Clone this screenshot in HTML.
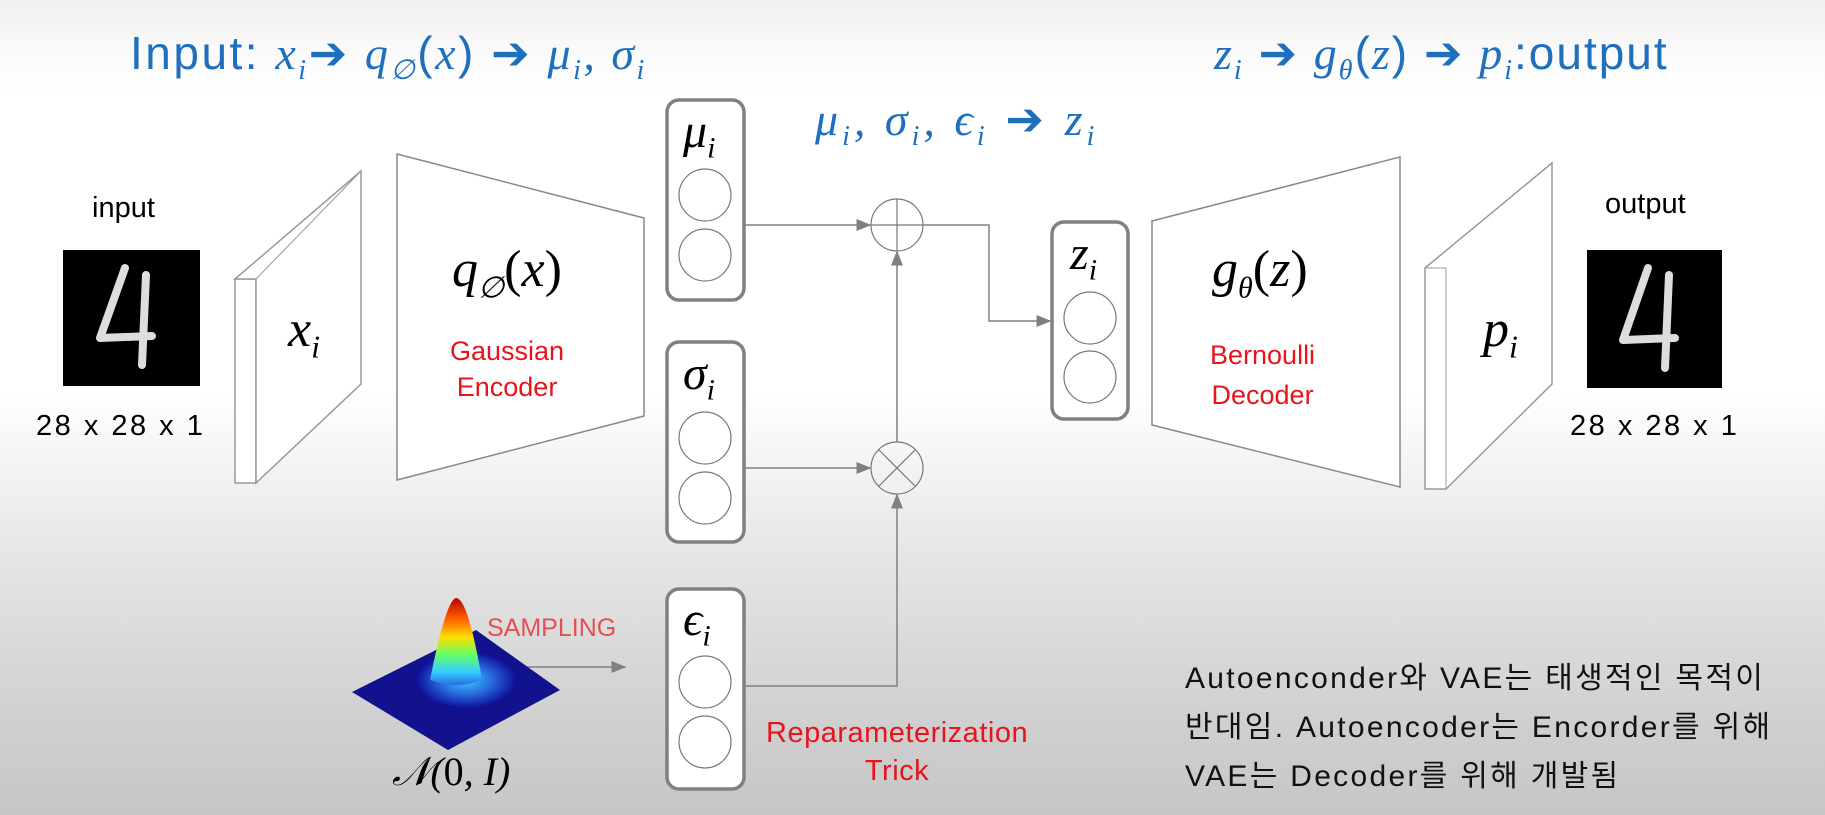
<!DOCTYPE html>
<html><head><meta charset="utf-8"><style>
body{margin:0;width:1825px;height:815px;overflow:hidden;background:linear-gradient(180deg,#efefef 0,#fafafa 6%,#ffffff 12%,#ffffff 48%,#e6e6e6 68%,#d0d0d0 88%,#c6c6c6 100%);position:relative;font-family:"Liberation Sans","Noto Sans CJK KR",sans-serif}
.t{position:absolute;white-space:nowrap}
.m{font-family:"Liberation Serif",serif;font-style:italic}
.blue{color:#1f6fbf}
.red{color:#e8141c}
svg{position:absolute;left:0;top:0}
</style></head><body>
<svg width="1825" height="815">
<defs>
<marker id="a" markerWidth="10" markerHeight="8" refX="9" refY="4" orient="auto"><path d="M0,0L10,4L0,8z" fill="#808080"/></marker>
<radialGradient id="g" cx="50%" cy="50%" r="50%"><stop offset="0" stop-color="#3cf"/><stop offset="0.5" stop-color="#2a6ee0"/><stop offset="1" stop-color="#10109a"/></radialGradient>
<linearGradient id="d" x1="0" y1="0" x2="0" y2="1"><stop offset="0" stop-color="#b00"/><stop offset="0.25" stop-color="#f60"/><stop offset="0.45" stop-color="#fd0"/><stop offset="0.65" stop-color="#6f6"/><stop offset="0.85" stop-color="#3cf"/><stop offset="1" stop-color="#2a6ee0"/></linearGradient>
</defs>
<polygon points="235,279 256,279 256,483 235,483" fill="#fff" stroke="#999" stroke-width="1.5"/>
<polygon points="235,279 361,171 361,384 256,483 256,279" fill="#fff" stroke="#999" stroke-width="1.5"/>
<line x1="256" y1="279" x2="361" y2="171" stroke="#999"/>
<polygon points="397,154 644,218 644,416 397,480" fill="#fff" stroke="#888" stroke-width="1.5"/>
<polygon points="1152,221 1400,157 1400,487 1152,425" fill="#fff" stroke="#888" stroke-width="1.5"/>
<polygon points="1425,268 1552,163 1552,384 1446,489 1425,489" fill="#fff" stroke="#999" stroke-width="1.5"/>
<line x1="1446" y1="268" x2="1446" y2="489" stroke="#999"/>
<line x1="1425" y1="268" x2="1446" y2="268" stroke="#999"/>
<g fill="#fff" stroke="#808080" stroke-width="3.5">
<rect x="667" y="100" width="77" height="200" rx="12"/>
<rect x="667" y="342" width="77" height="200" rx="12"/>
<rect x="667" y="589" width="77" height="200" rx="12"/>
<rect x="1052" y="222" width="76" height="197" rx="12"/>
</g>
<g fill="none" stroke="#777" stroke-width="1.2">
<circle cx="705" cy="195" r="26"/><circle cx="705" cy="255" r="26"/>
<circle cx="705" cy="438" r="26"/><circle cx="705" cy="498" r="26"/>
<circle cx="705" cy="682" r="26"/><circle cx="705" cy="742" r="26"/>
<circle cx="1090" cy="318" r="26"/><circle cx="1090" cy="377" r="26"/>
<circle cx="897" cy="225" r="26"/><circle cx="897" cy="468" r="26"/>
<line x1="871" y1="225" x2="923" y2="225"/><line x1="897" y1="199" x2="897" y2="251"/>
<line x1="879" y1="450" x2="915" y2="486"/><line x1="915" y1="450" x2="879" y2="486"/>
</g>
<g fill="none" stroke="#808080" stroke-width="1.5">
<line x1="744" y1="225" x2="870" y2="225" marker-end="url(#a)"/>
<line x1="744" y1="468" x2="870" y2="468" marker-end="url(#a)"/>
<polyline points="923,225 989,225 989,321 1050,321" marker-end="url(#a)"/>
<line x1="897" y1="442" x2="897" y2="252" marker-end="url(#a)"/>
<polyline points="744,686 897,686 897,495" marker-end="url(#a)"/>
<line x1="518" y1="667" x2="625" y2="667" marker-end="url(#a)"/>
</g>
<rect x="63" y="250" width="137" height="136" fill="#000"/>
<rect x="1587" y="250" width="135" height="138" fill="#000"/>
<g fill="none" stroke="#ddd" stroke-width="8" stroke-linecap="round" stroke-linejoin="round">
<path d="M125,268 L100,338 L152,336 M146,275 L142,365"/>
<path d="M1648,268 L1623,340 L1675,338 M1669,275 L1665,368"/>
</g>
<polygon points="352,692 476,630 560,690 448,750" fill="#12128f"/>
<ellipse cx="466" cy="680" rx="50" ry="28" fill="url(#g)"/>
<path d="M430,680 Q446,600 456,598 Q468,598 482,680 Q456,690 430,680Z" fill="url(#d)"/>
</svg>

<div class="t blue" style="left:130px;top:26px;font-size:46px;letter-spacing:2.5px">Input: <span class="m">x<sub style="font-size:28px">i</sub></span>➔ <span class="m">q<sub style="font-size:28px">∅</sub></span>(<span class="m">x</span>) ➔ <span class="m">μ<sub style="font-size:28px">i</sub>, σ<sub style="font-size:28px">i</sub></span></div>
<div class="t blue" style="left:1214px;top:26px;font-size:46px;letter-spacing:2px"><span class="m">z<sub style="font-size:28px">i</sub></span> ➔ <span class="m">g<sub style="font-size:28px">θ</sub></span>(<span class="m">z</span>) ➔ <span class="m">p<sub style="font-size:28px">i</sub></span>:output</div>
<div class="t blue" style="left:815px;top:92px;font-size:46px;letter-spacing:4px"><span class="m">μ<sub style="font-size:28px">i</sub>, σ<sub style="font-size:28px">i</sub>, ϵ<sub style="font-size:28px">i</sub></span> ➔ <span class="m">z<sub style="font-size:28px">i</sub></span></div>

<div class="t" style="left:92px;top:192px;font-size:29px">input</div>
<div class="t" style="left:36px;top:410px;font-size:29px;letter-spacing:2.5px">28 x 28 x 1</div>
<div class="t" style="left:1605px;top:188px;font-size:29px">output</div>
<div class="t" style="left:1570px;top:410px;font-size:29px;letter-spacing:2.5px">28 x 28 x 1</div>

<div class="t m" style="left:288px;top:300px;font-size:52px">x<sub style="font-size:32px">i</sub></div>
<div class="t m" style="left:1483px;top:300px;font-size:52px">p<sub style="font-size:32px">i</sub></div>
<div class="t" style="left:452px;top:240px;font-size:52px;font-family:'Liberation Serif',serif"><i>q</i><sub style="font-size:30px"><i>∅</i></sub>(<i>x</i>)</div>
<div class="t" style="left:1212px;top:240px;font-size:52px;font-family:'Liberation Serif',serif"><i>g</i><sub style="font-size:30px"><i>θ</i></sub>(<i>z</i>)</div>
<div class="t red" style="left:450px;top:333px;font-size:27px;text-align:center;line-height:36px">Gaussian<br>Encoder</div>
<div class="t red" style="left:1210px;top:335px;font-size:27px;text-align:center;line-height:40px">Bernoulli<br>Decoder</div>

<div class="t m" style="left:683px;top:104px;font-size:48px">μ<sub style="font-size:30px">i</sub></div>
<div class="t m" style="left:683px;top:346px;font-size:48px">σ<sub style="font-size:30px">i</sub></div>
<div class="t m" style="left:683px;top:592px;font-size:48px">ϵ<sub style="font-size:30px">i</sub></div>
<div class="t m" style="left:1070px;top:226px;font-size:48px">z<sub style="font-size:30px">i</sub></div>

<div class="t red" style="left:487px;top:614px;font-size:25px;opacity:0.7">SAMPLING</div>
<div class="t m" style="left:392px;top:748px;font-size:40px">𝒩(<span style="font-style:normal">0</span>, I)</div>
<div class="t red" style="left:766px;top:714px;font-size:29px;text-align:center;line-height:38px;letter-spacing:0.5px">Reparameterization<br>Trick</div>

<div class="t" style="left:1185px;top:654px;font-size:30px;line-height:49px;color:#111;letter-spacing:2.3px">Autoenconder와 VAE는 태생적인 목적이<br>반대임. Autoencoder는 Encorder를 위해<br>VAE는 Decoder를 위해 개발됨</div>
</body></html>
